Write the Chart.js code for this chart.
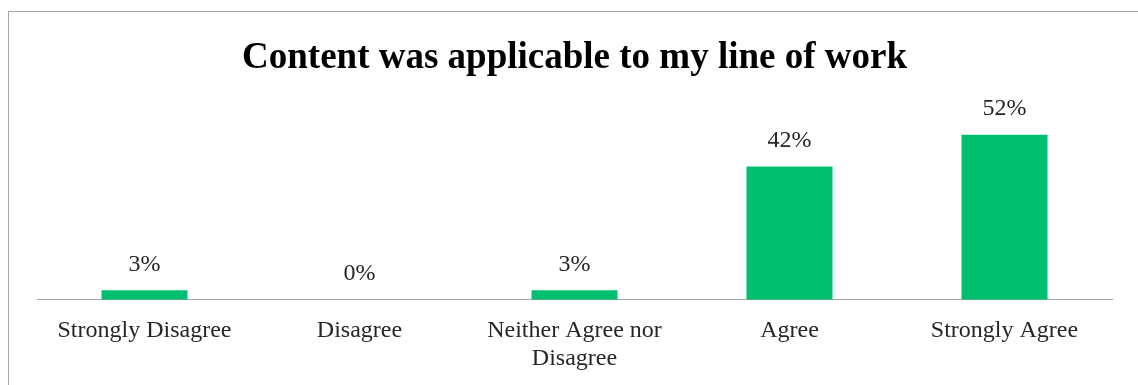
<!DOCTYPE html>
<html>
<head>
<meta charset="utf-8">
<script src="https://cdn.jsdelivr.net/npm/chart.js@4"></script>
<style>
  body { margin: 0; background: #fff; }
  #frame { position: absolute; left: 8px; top: 11px; width: 1130px; height: 374px;
           border-left: 1px solid #a6a6a6; border-top: 1px solid #a6a6a6; }
  #chartContainer { position: absolute; left: 0; top: 0; width: 1138px; height: 385px; }
</style>
</head>
<body>
<div id="frame"></div>
<div id="chartContainer"><canvas id="chartCanvas" width="1138" height="385"></canvas></div>
<script>
const categories = ['Strongly Disagree', 'Disagree', ['Neither Agree nor', 'Disagree'], 'Agree', 'Strongly Agree'];
const percentages = [3, 0, 3, 42, 52];
const chartTitle = 'Content was applicable to my line of work';

const serif = "'Liberation Serif', 'DejaVu Serif', serif";

// draws "nn%" above each bar
const valueLabels = {
    id: 'valueLabels',
    afterDatasetsDraw(chart) {
        const ctx = chart.ctx;
        const meta = chart.getDatasetMeta(0);
        ctx.save();
        ctx.font = "24px " + serif;
        ctx.fillStyle = '#262626';
        ctx.textAlign = 'center';
        ctx.textBaseline = 'middle';
        meta.data.forEach((bar, i) => {
            ctx.fillText(percentages[i] + '%', bar.x, bar.y - 26);
        });
        ctx.restore();
    }
};

const ctx = document.getElementById('chartCanvas').getContext('2d');
new Chart(ctx, {
    type: 'bar',
    data: {
        labels: categories,
        datasets: [{
            data: percentages,
            backgroundColor: '#00bf6f',
            categoryPercentage: 1.0,
            barPercentage: 0.4
        }]
    },
    options: {
        responsive: false,
        animation: false,
        layout: { padding: { left: 37, right: 26, top: 0, bottom: -5 } },
        plugins: {
            legend: { display: false },
            tooltip: { enabled: false },
            title: {
                display: true,
                text: chartTitle,
                color: '#000',
                font: { family: serif, size: 37, weight: 'bold', lineHeight: 1.2 },
                padding: { top: 36, bottom: 29 }
            }
        },
        scales: {
            x: {
                grid: { display: false, drawTicks: false },
                border: { color: '#a6a6a6', width: 1 },
                ticks: {
                    color: '#262626',
                    font: { family: serif, size: 24, lineHeight: 1.17 },
                    padding: 17,
                    maxRotation: 0,
                    autoSkip: false
                }
            },
            y: { display: false, min: 0, max: 60 }
        }
    },
    plugins: [valueLabels]
});
</script>
</body>
</html>
